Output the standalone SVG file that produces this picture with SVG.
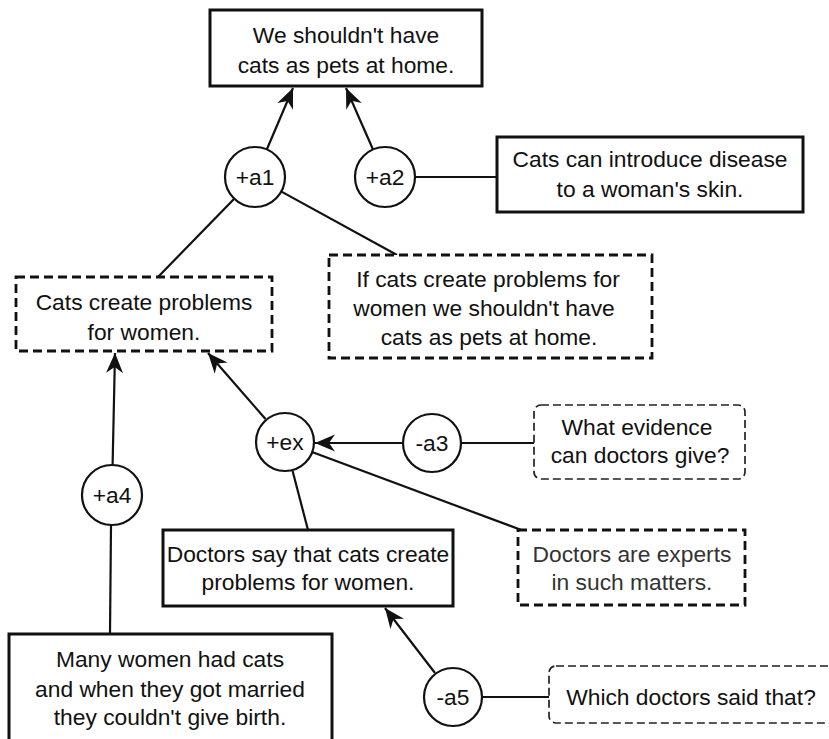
<svg xmlns="http://www.w3.org/2000/svg" width="829" height="739" viewBox="0 0 829 739">
<style>
text{font-family:"Liberation Sans",Arial,Helvetica,sans-serif;font-size:22.8px;fill:#111;text-anchor:middle}
.box{fill:#fff;stroke:#111;stroke-width:3}
.dash{fill:#fff;stroke:#111;stroke-width:2.8;stroke-dasharray:9 5}
.q{fill:#fff;stroke:#222;stroke-width:1.7;stroke-dasharray:8 4}
.c{fill:#fff;stroke:#111;stroke-width:2.2}
.ln{stroke:#111;stroke-width:2.2;fill:none}
.ar{stroke:#111;stroke-width:2.2;fill:none;marker-end:url(#ah)}
</style>
<defs>
<marker id="ah" viewBox="-1 -10 23 20" markerWidth="23" markerHeight="20" refX="20" refY="0" orient="auto" markerUnits="userSpaceOnUse">
<path d="M0,-8.5 L20,0 L0,8.5 L6,0 z" fill="#111"/>
</marker>
</defs>
<rect width="829" height="739" fill="#fff"/>
<g id="connectors">
<line class="ar" x1="267" y1="149" x2="293" y2="88"/>
<line class="ar" x1="373" y1="149.5" x2="346" y2="88"/>
<line class="ln" x1="415" y1="177" x2="497" y2="177"/>
<line class="ln" x1="234" y1="199" x2="158" y2="277"/>
<line class="ln" x1="281" y1="191.4" x2="397" y2="255"/>
<line class="ar" x1="265.5" y1="419" x2="208" y2="353"/>
<line class="ar" x1="403" y1="443" x2="315" y2="443"/>
<line class="ln" x1="461" y1="443" x2="534" y2="443"/>
<line class="ln" x1="312" y1="452" x2="524" y2="531"/>
<line class="ln" x1="292.6" y1="471" x2="308" y2="530"/>
<line class="ar" x1="112.6" y1="465" x2="115" y2="353"/>
<line class="ln" x1="111" y1="525" x2="110" y2="634"/>
<line class="ar" x1="435" y1="673" x2="385" y2="608"/>
<line class="ln" x1="482" y1="697" x2="549" y2="697"/>
</g>
<g id="claim">
<rect class="box" x="210" y="10" width="272" height="76"/>
<text x="346" y="43">We shouldn't have</text>
<text x="346" y="73">cats as pets at home.</text>
</g>
<g id="a1"><circle class="c" cx="255" cy="177" r="30"/><text x="255" y="185">+a1</text></g>
<g id="a2"><circle class="c" cx="385" cy="177" r="30"/><text x="385" y="185">+a2</text></g>
<g id="disease">
<rect class="box" x="497" y="137" width="306" height="75"/>
<text x="650" y="167">Cats can introduce disease</text>
<text x="650" y="197">to a woman's skin.</text>
</g>
<g id="problems">
<rect class="dash" x="16" y="277" width="256" height="74"/>
<text x="144" y="310">Cats create problems</text>
<text x="144" y="340">for women.</text>
</g>
<g id="ifcats">
<rect class="dash" x="329" y="255" width="323" height="103"/>
<text x="488" y="287">If cats create problems for</text>
<text x="484" y="316">women we shouldn't have</text>
<text x="489" y="345">cats as pets at home.</text>
</g>
<g id="ex"><circle class="c" cx="285" cy="442" r="29"/><text x="285" y="450">+ex</text></g>
<g id="a3"><circle class="c" cx="432" cy="443" r="29"/><text x="432" y="451">-a3</text></g>
<g id="evidence">
<rect class="q" x="534" y="405" width="211" height="74" rx="7"/>
<text x="637" y="435">What evidence</text>
<text x="640" y="463">can doctors give?</text>
</g>
<g id="a4"><circle class="c" cx="112" cy="495" r="30"/><text x="112" y="503">+a4</text></g>
<g id="experts">
<rect class="dash" x="518" y="530" width="227" height="75"/>
<text x="632" y="562" style="fill:#333">Doctors are experts</text>
<text x="632" y="590" style="fill:#333">in such matters.</text>
</g>
<g id="doctors">
<rect class="box" x="163" y="530" width="290" height="76"/>
<text x="308" y="562">Doctors say that cats create</text>
<text x="308" y="590">problems for women.</text>
</g>
<g id="many">
<rect class="box" x="9" y="634" width="323" height="115"/>
<text x="170" y="667">Many women had cats</text>
<text x="170" y="697">and when they got married</text>
<text x="170" y="725">they couldn't give birth.</text>
</g>
<g id="a5"><circle class="c" cx="453" cy="697" r="29"/><text x="453" y="705">-a5</text></g>
<g id="which">
<rect class="q" x="549" y="666" width="290" height="57" rx="7"/>
<text x="691" y="705">Which doctors said that?</text>
</g>
</svg>
